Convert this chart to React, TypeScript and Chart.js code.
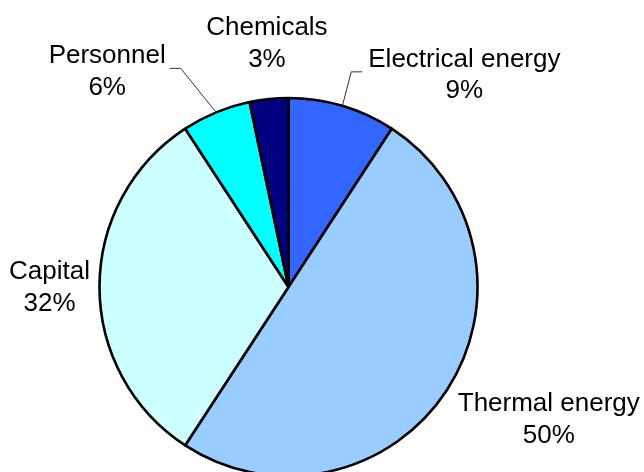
import React, { useEffect, useRef } from "react";
import { Chart, registerables } from "chart.js";

Chart.register(...registerables);

const categories = ["Electrical energy", "Thermal energy", "Capital", "Personnel", "Chemicals"];
const shares = [9.2, 50.0, 31.6, 5.9, 3.3];
const sliceColors = ["#3366FF", "#99CCFF", "#CCFFFF", "#00FFFF", "#000080"];

// label placement relative to the slice's outer mid-point (layout only)
const labelOffsets: [number, number][] = [
  [122, -39],
  [102, 21],
  [-50, -8],
  [-109, -49],
  [-2, -64],
];
const leaderSide = [-1, 0, 0, 1, 0]; // -1: line from left of text, 1: from right, 0: none

const FONT_SIZE = 26;
const LINE_H = 31.5;
const FONT = `${FONT_SIZE}px "Liberation Sans", Arial, sans-serif`;

const labelPlugin = {
  id: "pieLabels",
  afterDraw(chart: any) {
    const ctx = chart.ctx as CanvasRenderingContext2D;
    const meta = chart.getDatasetMeta(0);
    const data = chart.data.datasets[0].data as number[];
    const total = data.reduce((a, b) => a + b, 0);
    ctx.save();
    ctx.font = FONT;
    ctx.fillStyle = "#000000";
    ctx.textAlign = "center";
    ctx.textBaseline = "alphabetic";
    meta.data.forEach((arc: any, i: number) => {
      const { x, y, startAngle, endAngle, outerRadius } = arc.getProps(
        ["x", "y", "startAngle", "endAngle", "outerRadius"],
        true
      );
      const mid = (startAngle + endAngle) / 2;
      const ax = x + Math.cos(mid) * outerRadius;
      const ay = y + Math.sin(mid) * outerRadius;
      const [dx, dy] = labelOffsets[i];
      const lx = ax + dx;
      const ly = ay + dy;
      const line1 = String(chart.data.labels[i]);
      const line2 = `${Math.round((data[i] / total) * 100)}%`;
      ctx.fillText(line1, lx, ly);
      ctx.fillText(line2, lx, ly + LINE_H);
      const side = leaderSide[i];
      if (side !== 0) {
        const w = ctx.measureText(line1).width;
        const yl = ly + 5;
        const xEnd = side < 0 ? lx - w / 2 - 6 : lx + w / 2 + 4;
        const xElbow = xEnd + (side < 0 ? -11 : 11);
        ctx.save();
        ctx.strokeStyle = "#333333";
        ctx.lineWidth = 1;
        ctx.beginPath();
        ctx.moveTo(xEnd, yl);
        ctx.lineTo(xElbow, yl);
        ctx.lineTo(ax, ay);
        ctx.stroke();
        ctx.restore();
      }
    });
    ctx.restore();
  },
};

export default function App() {
  const ref = useRef<HTMLCanvasElement | null>(null);
  useEffect(() => {
    if (!ref.current) return;
    const chart = new Chart(ref.current, {
      type: "pie",
      data: {
        labels: categories,
        datasets: [
          {
            data: shares,
            backgroundColor: sliceColors,
            borderColor: "#000000",
            borderWidth: 2.6,
            radius: 189,
          } as any,
        ],
      },
      options: {
        animation: false,
        responsive: false,
        maintainAspectRatio: false,
        layout: { padding: { left: 99.5, right: 166.5, top: 98, bottom: 4 } },
        plugins: {
          legend: { display: false },
          tooltip: { enabled: false },
        },
      },
      plugins: [labelPlugin],
    });
    return () => chart.destroy();
  }, []);
  return (
    <div
      style={{
        position: "fixed",
        left: 0,
        top: 0,
        width: 644,
        height: 472,
        overflow: "hidden",
        background: "#ffffff",
      }}
    >
      <canvas ref={ref} width={644} height={480} style={{ display: "block", width: 644, height: 480 }} />
    </div>
  );
}
